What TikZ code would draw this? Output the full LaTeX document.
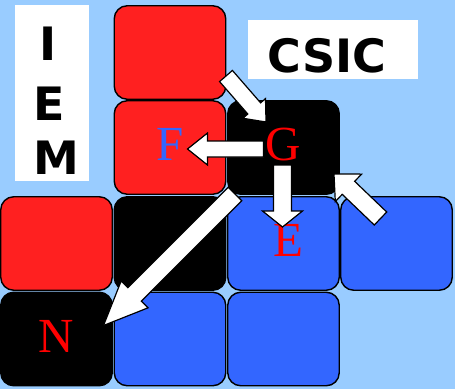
\documentclass[tikz,border=0pt]{standalone}
\usepackage{fontspec}
\setmainfont{Liberation Serif}
\newfontfamily\logofont{DejaVu Sans}
\usetikzlibrary{calc}

\definecolor{skyback}{RGB}{153,204,255}
\definecolor{cellred}{RGB}{255,32,32}
\definecolor{cellblue}{RGB}{51,102,255}
\definecolor{letterred}{RGB}{255,0,0}

\tikzset{
  cell/.style={draw=black, line width=1.4pt, rounded corners=13pt,
    minimum width=111.5pt, minimum height=93.5pt, inner sep=0pt,
    font=\fontsize{49}{49}\selectfont, text depth=6pt},
  redcell/.style={cell, fill=cellred},
  bluecell/.style={cell, fill=cellblue},
  blackcell/.style={cell, fill=black},
  logobox/.style={fill=white, draw=none},
  logotext/.style={font=\logofont\bfseries\fontsize{46}{46}\selectfont, inner sep=0pt},
  blockarrowstyle/.style={fill=white, draw=black, line width=1.2pt, line join=miter}
}

% block arrow from #1 (tail) to #2 (tip): shaft half width #3,
% head half width #4, head length #5
\newcommand\blockarrow[5]{%
  \coordinate (ba-base) at ($(#2)!#5!(#1)$);
  \draw[blockarrowstyle]
    ($(#1)!#3!90:(#2)$) -- ($(ba-base)!#3!-90:(#1)$) -- ($(ba-base)!#4!-90:(#1)$)
    -- (#2) -- ($(ba-base)!#4!90:(#1)$) -- ($(ba-base)!#3!90:(#1)$)
    -- ($(#1)!#3!-90:(#2)$) -- cycle;
}

\begin{document}
\begin{tikzpicture}[x=1pt, y=-1pt]
  \fill[skyback] (0,0) rectangle (455,389);
  \useasboundingbox (0,0) rectangle (455,389);

  % title boxes
  \fill[logobox] (15,5) rectangle (89,181);
  \node[logotext] (li) at (48,44) {I};
  \node[logotext] (le) at (49,104) {E};
  \node[logotext] (lm) at (56,158) {M};
  \fill[logobox] (248,20) rectangle (418,79);
  \node[logotext] (csic) at (327,56) {CSIC};

  % grid of cells
  \node[redcell]   (top) at (170,52.5) {};
  \node[redcell]   (F)   at (170,147.5) {\textcolor{cellblue}{F}};
  \node[blackcell] (G)   at (283.5,147.5) {\textcolor{letterred}{G}};
  \node[redcell]   (r3a) at (56.5,243.5) {};
  \node[blackcell] (r3b) at (170,243.5) {};
  \node[bluecell]  (E)   at (283.5,243.5) {\hspace{10pt}\textcolor{letterred}{E}};
  \node[bluecell]  (r3d) at (396.5,243.5) {};
  \node[blackcell] (N)   at (56.5,339) {\textcolor{letterred}{N}};
  \node[bluecell]  (r4b) at (170,339) {};
  \node[bluecell]  (r4c) at (283.5,339) {};

  % arrow ends
  \coordinate (a1s) at (226,76);
  \coordinate (a1e) at (266,122);
  \coordinate (a2s) at (263.5,149);
  \coordinate (a2e) at (187.5,149);
  \coordinate (a3s) at (282.5,165);
  \coordinate (a3e) at (282.5,227);
  \coordinate (a4s) at (380.5,218.5);
  \coordinate (a4e) at (334,174);
  \coordinate (a5s) at (235,194);
  \coordinate (a5e) at (103.5,325.5);

  \blockarrow{a1s}{a1e}{8.5pt}{15pt}{18pt}
  \blockarrow{a2s}{a2e}{8pt}{16pt}{20pt}
  \blockarrow{a3s}{a3e}{9pt}{20pt}{16pt}
  \blockarrow{a4s}{a4e}{9pt}{19pt}{20pt}
  \blockarrow{a5s}{a5e}{9.5pt}{19pt}{44pt}
\end{tikzpicture}
\end{document}
